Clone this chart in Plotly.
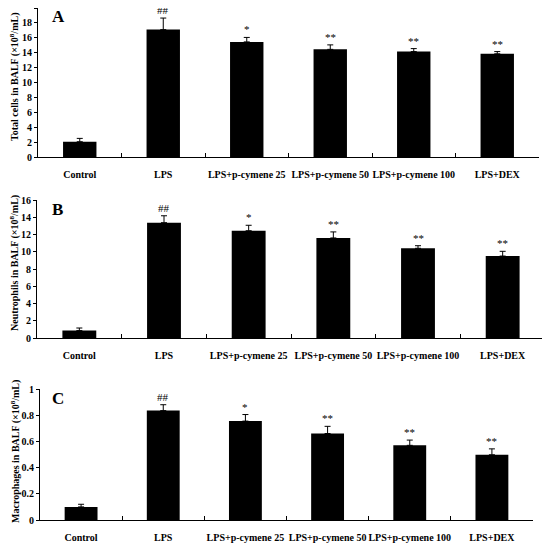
import plotly.graph_objects as go

# Groups on the x axis
categories = ["Control", "LPS", "LPS+p-cymene 25", "LPS+p-cymene 50",
              "LPS+p-cymene 100", "LPS+DEX"]

# Panel A: total cells (x10^8/mL)
total_mean = [2.05, 17.1, 15.45, 14.45, 14.15, 13.85]
total_err = [0.45, 1.55, 0.6, 0.6, 0.4, 0.3]

# Panel B: neutrophils
neut_mean = [0.86, 13.37, 12.44, 11.6, 10.4, 9.5]
neut_err = [0.3, 0.8, 0.63, 0.7, 0.3, 0.55]

# Panel C: macrophages
macro_mean = [0.10, 0.835, 0.755, 0.66, 0.57, 0.498]
macro_err = [0.02, 0.045, 0.05, 0.055, 0.04, 0.045]

# significance marks over each bar
marks = ["", "##", "*", "**", "**", "**"]

FONT = "Liberation Serif, Times New Roman, serif"
# the page body has an 8px margin, so the figure starts at (8, 8) in the window
OFF = 8
W, H = 550 - OFF, 544 - OFF


def px_x(p):
    return (p - OFF) / W


def px_y(p):
    return 1 - (p - OFF) / H


panels = [
    # letter, means, errs, y range, dtick, y title, plot box in window px (x0, x1, ytop, ybottom), title center
    ("A", total_mean, total_err, [0, 20], 2, "Total cells in BALF (×10<sup>8</sup>/mL)", (38, 539, 8, 157), (14, 77)),
    ("B", neut_mean, neut_err, [0, 16], 2, "Neutrophils in BALF (×10<sup>8</sup>/mL)", (37, 545, 200, 338), (14, 263)),
    ("C", macro_mean, macro_err, [0, 1], 0.2, "Macrophages in BALF (×10<sup>8</sup>/mL)", (40, 533, 389, 520), (15, 452)),
]

fig = go.Figure()
layout = dict(
    width=W, height=H,
    margin=dict(l=0, r=0, t=0, b=0, autoexpand=False),
    paper_bgcolor="white", plot_bgcolor="white",
    showlegend=False,
    font=dict(family=FONT, color="black", size=10),
)
annotations = []

for i, (letter, means, errs, yr, dt, ytitle, box, tpos) in enumerate(panels):
    n = "" if i == 0 else str(i + 1)
    x0, x1, ytop, ybot = box
    fig.add_trace(go.Bar(
        x=categories, y=means, width=0.4,
        marker=dict(color="black", line=dict(width=0)),
        error_y=dict(type="data", symmetric=False, array=errs,
                     arrayminus=[0] * len(errs), color="black",
                     thickness=1, width=3),
        xaxis="x" + n, yaxis="y" + n,
    ))
    layout["xaxis" + n] = dict(
        domain=[px_x(x0), min(px_x(x1), 1)], anchor="y" + n, automargin=False,
        showline=True, linecolor="black", linewidth=1,
        ticks="inside", ticklen=4, tickcolor="black", tickson="boundaries",
        showgrid=False, ticklabelstandoff=8, tickangle=0,
        tickfont=dict(family=FONT, size=10, weight="bold"),
    )
    layout["yaxis" + n] = dict(
        domain=[px_y(ybot), px_y(ytop)], anchor="x" + n, automargin=False,
        range=yr, dtick=dt, showline=True, linecolor="black", linewidth=1,
        ticks="outside", ticklen=3, tickcolor="black", showgrid=False,
        zeroline=False,
        tickfont=dict(family=FONT, size=10, weight="bold"),
    )
    # panel letter
    annotations.append(dict(
        text=letter, xref="paper", yref="paper",
        x=px_x(50), y=px_y(ytop + 9), xanchor="left", yanchor="middle",
        showarrow=False, font=dict(family=FONT, size=17, weight="bold"),
    ))
    # y-axis title
    annotations.append(dict(
        text=ytitle, xref="paper", yref="paper",
        x=px_x(tpos[0]), y=px_y(tpos[1]), textangle=-90,
        xanchor="center", yanchor="middle", showarrow=False,
        font=dict(family=FONT, size=10, weight="bold"),
    ))
    # significance marks
    for c, m, e, s in zip(categories, means, errs, marks):
        if s:
            annotations.append(dict(
                text=s, x=c, y=m + e, xref="x" + n, yref="y" + n,
                yanchor="bottom", yshift=0, showarrow=False,
                font=dict(family=FONT, size=11, color="black"),
            ))

layout["annotations"] = annotations
fig.update_layout(**layout)
fig.write_html("out.html")
